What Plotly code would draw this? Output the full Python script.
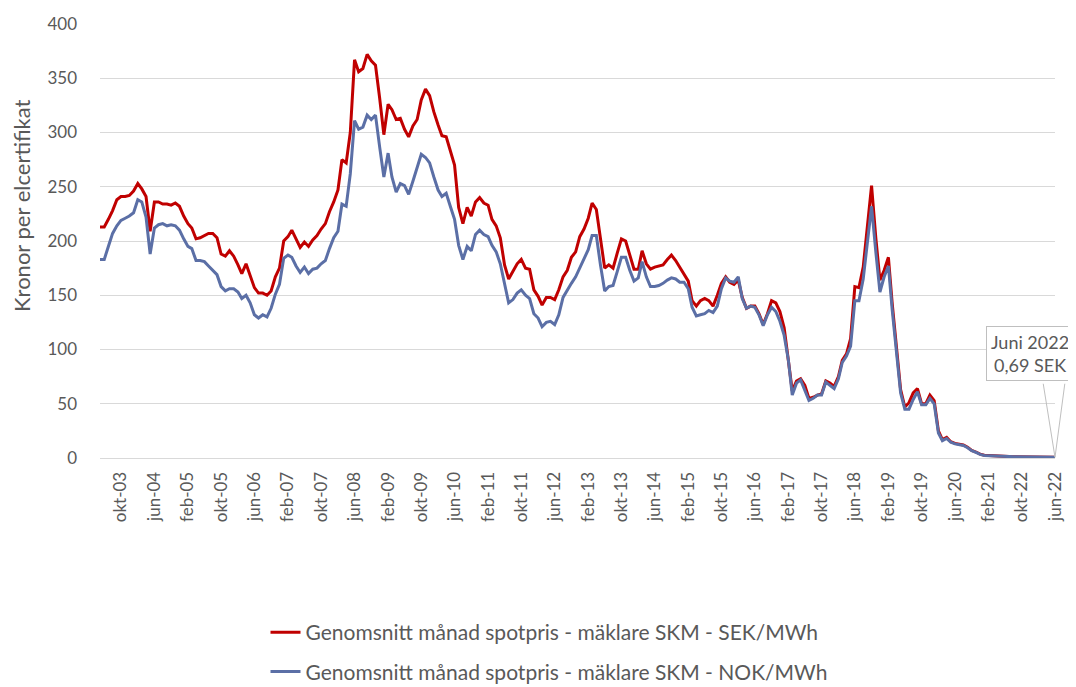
import pandas as pd
import plotly.graph_objects as go

# Monthly averages, May 2003 - June 2022
SEK = [213, 213, 220, 228, 238, 241, 241, 242, 246, 253, 248, 241, 209, 236, 236, 234, 234, 233, 235, 232,
       223, 216, 212, 202, 203, 205, 207, 207, 203, 188, 186, 191, 186, 178, 170, 179, 168, 157, 152, 152,
       150, 154, 167, 175, 200, 204, 210, 201, 194, 199, 195, 201, 205, 211, 216, 227, 236, 247, 275, 272,
       300, 367, 356, 359, 372, 366, 362, 332, 298, 326, 321, 312, 313, 303, 296, 306, 312, 330, 340, 334,
       319, 307, 297, 296, 284, 270, 231, 216, 231, 223, 236, 240, 235, 233, 220, 214, 203, 178, 165, 172,
       179, 183, 175, 174, 155, 149, 141, 148, 148, 146, 155, 167, 173, 185, 190, 204, 211, 221, 235, 229,
       204, 175, 178, 175, 189, 202, 200, 186, 174, 174, 191, 179, 174, 176, 177, 178, 183, 187, 182, 176,
       169, 163, 145, 140, 145, 147, 145, 140, 150, 161, 167, 162, 160, 164, 148, 138, 140, 140, 133, 123,
       133, 145, 143, 135, 120, 91, 62, 71, 73, 67, 55, 56, 58, 59, 71, 69, 66, 75, 90, 96,
       110, 158, 157, 176, 215, 251, 203, 164, 173, 185, 142, 100, 63, 47, 51, 60, 64, 50, 50, 58,
       53, 25, 17, 19, 15, 13.5, 13, 12, 10, 7, 5.5, 3.5, 2.5, 2.2, 2.2, 2.0, 1.8, 1.4, 1.3, 1.2,
       1.2, 1.3, 1.2, 1.1, 1.0, 1.0, 0.9, 0.8, 0.75, 0.69]

NOK = [183, 183, 195, 207, 214, 219, 221, 223, 226, 238, 236, 222, 188, 212, 215, 216, 214, 215, 214, 210,
       202, 195, 193, 182, 182, 181, 177, 173, 169, 158, 154, 156, 156, 153, 147, 150, 143, 132, 129, 132,
       130, 138, 151, 160, 184, 187, 185, 177, 171, 176, 170, 174, 175, 179, 182, 193, 203, 209, 234, 232,
       262, 311, 303, 305, 316, 312, 316, 287, 259, 281, 259, 245, 253, 251, 243, 255, 267, 280, 277, 272,
       259, 247, 241, 244, 232, 220, 196, 183, 195, 191, 206, 210, 206, 204, 196, 190, 179, 161, 143, 146,
       152, 155, 150, 147, 133, 129, 121, 125, 126, 123, 132, 148, 155, 161, 167, 175, 183, 192, 205, 205,
       178, 154, 158, 159, 172, 185, 185, 173, 163, 166, 181, 167, 158, 158, 159, 161, 164, 166, 165, 162,
       162, 156, 139, 131, 132, 133, 136, 134, 140, 156, 166, 163, 162, 167, 147, 138, 140, 139, 132, 122,
       132, 139, 135, 126, 113, 90, 58, 69, 72, 63, 53, 55, 58, 58, 70, 67, 64, 73, 88, 94,
       103, 145, 145, 165, 200, 232, 190, 153, 167, 177, 136, 94, 60, 45, 45, 54, 61, 49, 49, 55,
       50, 23, 16, 18, 14.5, 13, 12.5, 11.5, 9.5, 6.8, 5.2, 3.3, 2.4, 2.1, 2.1, 1.9, 1.7, 1.4, 1.3, 1.2,
       1.2, 1.2, 1.1, 1.0, 0.95, 0.9, 0.85, 0.8, 0.72, 0.66]

TICK_LABELS = ["okt-03", "jun-04", "feb-05", "okt-05", "jun-06", "feb-07", "okt-07", "jun-08",
               "feb-09", "okt-09", "jun-10", "feb-11", "okt-11", "jun-12", "feb-13", "okt-13",
               "jun-14", "feb-15", "okt-15", "jun-16", "feb-17", "okt-17", "jun-18", "feb-19",
               "okt-19", "jun-20", "feb-21", "okt-22", "jun-22"]

SERIES_NAMES = ["Genomsnitt månad spotpris - mäklare SKM - SEK/MWh",
                "Genomsnitt månad spotpris - mäklare SKM - NOK/MWh"]
Y_TITLE = "Kronor per elcertifikat"
CALLOUT = "Juni 2022<br>0,69 SEK"

dates = pd.date_range("2003-05-01", periods=len(SEK), freq="MS")
tickvals = list(dates[5::8])

FONT = "Lato"
GREY = "#595959"

fig = go.Figure()
fig.add_trace(go.Scatter(x=dates, y=SEK, mode="lines", name=SERIES_NAMES[0],
                         line=dict(color="#C00000", width=3), legendgroup="a"))
fig.add_trace(go.Scatter(x=dates, y=NOK, mode="lines", name=SERIES_NAMES[1],
                         line=dict(color="#5B6FA6", width=3), legendgroup="b"))

# page body has an 8px margin, so the figure is laid out 8px in from the window edge
OFF = 8
W, H = 1076 - OFF, 687 - OFF
L, T = 100 - OFF, 24 - OFF
R = W - (1055 - OFF)
B = H - (458 - OFF)
PW, PH = W - L - R, H - T - B


def px_x(x):
    return (x - OFF - L) / PW


def px_y(y):
    return (H - B - (y - OFF)) / PH


fig.update_layout(
    width=W, height=H,
    margin=dict(l=L, r=R, t=T, b=B, autoexpand=False),
    paper_bgcolor="white", plot_bgcolor="white",
    font=dict(family=FONT, color=GREY, size=17),
    showlegend=True,
    legend=dict(orientation="v", x=px_x(549), xanchor="center",
                y=px_y(612), yanchor="top", font=dict(size=21, color=GREY),
                tracegroupgap=9, bgcolor="rgba(0,0,0,0)"),
    xaxis=dict(range=[dates[0], dates[-1]], tickvals=tickvals, ticktext=TICK_LABELS,
               tickangle=-90, showgrid=False, zeroline=False, showline=True, automargin=False,
               linecolor="#D9D9D9", linewidth=1, ticks="", tickfont=dict(size=17, color=GREY),
               ticklabelstandoff=6),
    yaxis=dict(range=[0, 400], tickvals=list(range(0, 401, 50)), showgrid=True, automargin=False,
               gridcolor="#D9D9D9", gridwidth=1.3, zeroline=False, ticks="",
               tickfont=dict(size=17, color=GREY), ticklabelstandoff=22),
)

fig.add_annotation(xref="paper", yref="paper", x=px_x(22), y=px_y(206),
                   text=Y_TITLE, textangle=-90, showarrow=False,
                   font=dict(size=22, color=GREY), xanchor="center", yanchor="middle")

# callout wedge lines to the last point
last_x, last_y = dates[-1], SEK[-1]
for ax in (-12, 10):
    fig.add_annotation(x=last_x, y=last_y, xref="x", yref="y", text="", showarrow=True,
                       ax=ax, ay=-75, arrowhead=0, arrowwidth=1, arrowcolor="#BFBFBF", standoff=0)
fig.add_annotation(x=last_x, y=last_y, xref="x", yref="y", text=CALLOUT, showarrow=False,
                   xshift=-25, yshift=104, bgcolor="white", bordercolor="#BFBFBF", borderwidth=1,
                   borderpad=4, font=dict(size=18, color=GREY), align="center")

fig.write_html("out.html")
